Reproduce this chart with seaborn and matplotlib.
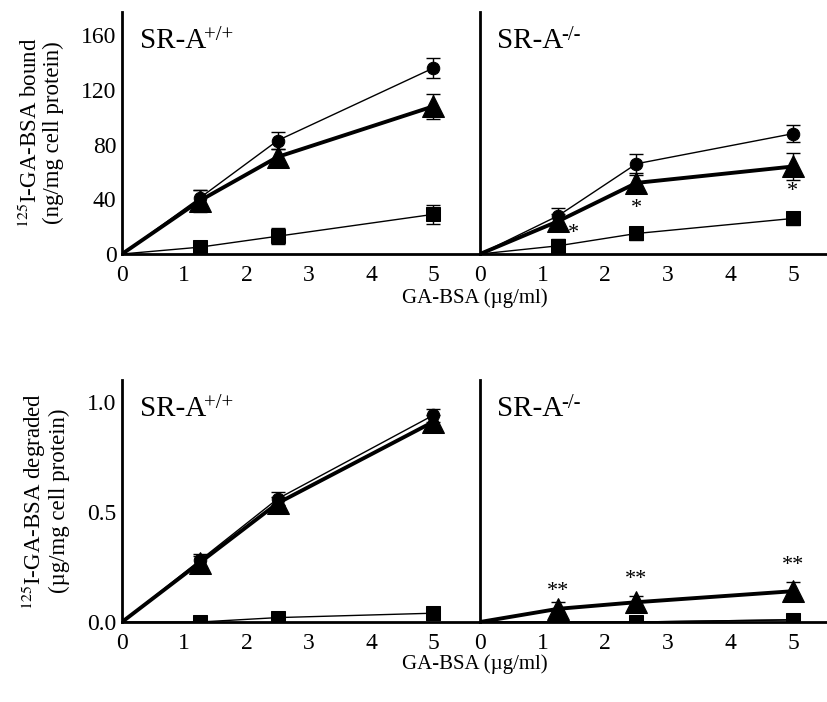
import matplotlib
matplotlib.use("Agg")
import matplotlib.pyplot as plt
import numpy as np
import pandas as pd
import seaborn as sns

# concentrations of GA-BSA (ug/ml)
conc = [0, 1.25, 2.5, 5]

# binding (ng/mg cell protein)
bound_wt_circle = [0, 41, 83, 136]
bound_wt_circle_err = [0, 6, 6, 7]
bound_wt_tri = [0, 39, 71, 108]
bound_wt_tri_err = [0, 8, 6, 9]
bound_wt_sq = [0, 5, 13, 29]
bound_wt_sq_err = [0, 3, 6, 7]

bound_ko_circle = [0, 28, 66, 88]
bound_ko_circle_err = [0, 6, 7, 6]
bound_ko_tri = [0, 24, 52, 64]
bound_ko_tri_err = [0, 5, 6, 10]
bound_ko_sq = [0, 6, 15, 26]
bound_ko_sq_err = [0, 5, 5, 5]

# degradation (ug/mg cell protein)
deg_wt_circle = [0, 0.28, 0.56, 0.94]
deg_wt_circle_err = [0, 0.03, 0.03, 0.03]
deg_wt_tri = [0, 0.27, 0.54, 0.91]
deg_wt_tri_err = [0, 0.03, 0.03, 0.03]
deg_wt_sq = [0, 0.0, 0.02, 0.04]
deg_wt_sq_err = [0, 0.02, 0.02, 0.03]

deg_ko_circle = [0, 0.0, 0.0, 0.01]
deg_ko_circle_err = [0, 0.01, 0.01, 0.01]
deg_ko_tri = [0, 0.06, 0.09, 0.14]
deg_ko_tri_err = [0, 0.03, 0.03, 0.04]
deg_ko_sq = [0, 0.0, 0.0, 0.01]
deg_ko_sq_err = [0, 0.01, 0.01, 0.01]

# significance marks
bound_ko_stars_x = [1.5, 2.5, 5]
bound_ko_stars_y = [15, 33, 46]
deg_ko_stars_x = [1.25, 2.5, 5]
deg_ko_stars_y = [0.14, 0.195, 0.255]

sns.set_style("white")
plt.rcParams["font.family"] = ["Liberation Serif", "DejaVu Serif"]
plt.rcParams["mathtext.fontset"] = "stix"
plt.rcParams["text.color"] = "black"
plt.rcParams["axes.labelcolor"] = "black"

fig = plt.figure(figsize=(8.28, 7.02), dpi=100)
W, H = 828, 702


def make_ax(x0, x1, y0, y1):
    return fig.add_axes([x0 / W, 1 - y1 / H, (x1 - x0) / W, (y1 - y0) / H])


ax_tl = make_ax(122, 480, 12, 254)
ax_tr = make_ax(480, 828, 12, 254)
ax_bl = make_ax(122, 480, 380, 622)
ax_br = make_ax(480, 828, 380, 622)


def draw_series(ax, y, err, marker, ms, lw):
    df = pd.DataFrame({"x": conc, "y": y})
    ax.errorbar(conc[1:], y[1:], yerr=err[1:], fmt="none", ecolor="black",
                elinewidth=1, capsize=5, capthick=1, zorder=2)
    sns.lineplot(data=df, x="x", y="y", ax=ax, color="black", lw=lw,
                 marker=marker, markersize=ms, markeredgecolor="black",
                 markerfacecolor="black", markevery=[1, 2, 3], zorder=3)


def style_ax(ax, xmax, ylim, yticks, ylabels, show_y):
    ax.set_xlim(0, xmax)
    ax.set_ylim(*ylim)
    ax.set_xticks([0, 1, 2, 3, 4, 5])
    ax.set_xticklabels(["0", "1", "2", "3", "4", "5"])
    ax.set_yticks(yticks)
    if show_y:
        ax.set_yticklabels(ylabels)
    else:
        ax.set_yticklabels([])
    ax.tick_params(direction="in", length=5, width=1.5, labelsize=17,
                   colors="black", pad=4)
    ax.tick_params(axis="x", pad=8)
    for s in ["top", "right"]:
        ax.spines[s].set_visible(False)
    for s in ["left", "bottom"]:
        ax.spines[s].set_linewidth(2)
        ax.spines[s].set_color("black")
    ax.set_xlabel("")
    ax.set_ylabel("")
    ax.patch.set_alpha(0)


panels = [
    (ax_tl, [(bound_wt_circle, bound_wt_circle_err), (bound_wt_tri, bound_wt_tri_err), (bound_wt_sq, bound_wt_sq_err)], "+/+"),
    (ax_tr, [(bound_ko_circle, bound_ko_circle_err), (bound_ko_tri, bound_ko_tri_err), (bound_ko_sq, bound_ko_sq_err)], "-/-"),
    (ax_bl, [(deg_wt_circle, deg_wt_circle_err), (deg_wt_tri, deg_wt_tri_err), (deg_wt_sq, deg_wt_sq_err)], "+/+"),
    (ax_br, [(deg_ko_circle, deg_ko_circle_err), (deg_ko_tri, deg_ko_tri_err), (deg_ko_sq, deg_ko_sq_err)], "-/-"),
]

for ax, series, sup in panels:
    (c, ce), (t, te), (q, qe) = series
    draw_series(ax, c, ce, "o", 9, 1)
    draw_series(ax, q, qe, "s", 10, 1)
    draw_series(ax, t, te, "^", 16, 2.8)
    t0 = ax.text(0.05, 0.85, "SR-A", transform=ax.transAxes, fontsize=21,
                 va="baseline", ha="left")
    ax.annotate(sup, xy=(1.0, 1.0), xycoords=t0, xytext=(-1.5, 2),
                textcoords="offset points", fontsize=15, va="top", ha="left")

style_ax(ax_tl, 5.75, (0, 177), [0, 40, 80, 120, 160], ["0", "40", "80", "120", "160"], True)
style_ax(ax_tr, 5.56, (0, 177), [0, 40, 80, 120, 160], None, False)
style_ax(ax_bl, 5.75, (0, 1.1), [0, 0.25, 0.5, 0.75, 1.0], ["0.0", "", "0.5", "", "1.0"], True)
style_ax(ax_br, 5.56, (0, 1.1), [0, 0.25, 0.5, 0.75, 1.0], None, False)

for x, y in zip(bound_ko_stars_x, bound_ko_stars_y):
    ax_tr.text(x, y, "*", ha="center", va="center", fontsize=16)
for x, y in zip(deg_ko_stars_x, deg_ko_stars_y):
    ax_br.text(x, y, "**", ha="center", va="center", fontsize=16)

ax_tl.set_ylabel("$^{125}$I-GA-BSA bound\n(ng/mg cell protein)", fontsize=16.5,
                 linespacing=1.05, labelpad=12)
ax_bl.set_ylabel("$^{125}$I-GA-BSA degraded\n(\u00b5g/mg cell protein)", fontsize=16.5,
                 linespacing=1.05, labelpad=12)

fig.text(475 / W, 1 - 298 / H, "GA-BSA (\u00b5g/ml)", ha="center", va="center", fontsize=15)
fig.text(475 / W, 1 - 664 / H, "GA-BSA (\u00b5g/ml)", ha="center", va="center", fontsize=15)

fig.savefig("out.png", dpi=100)
plt.close("all")
